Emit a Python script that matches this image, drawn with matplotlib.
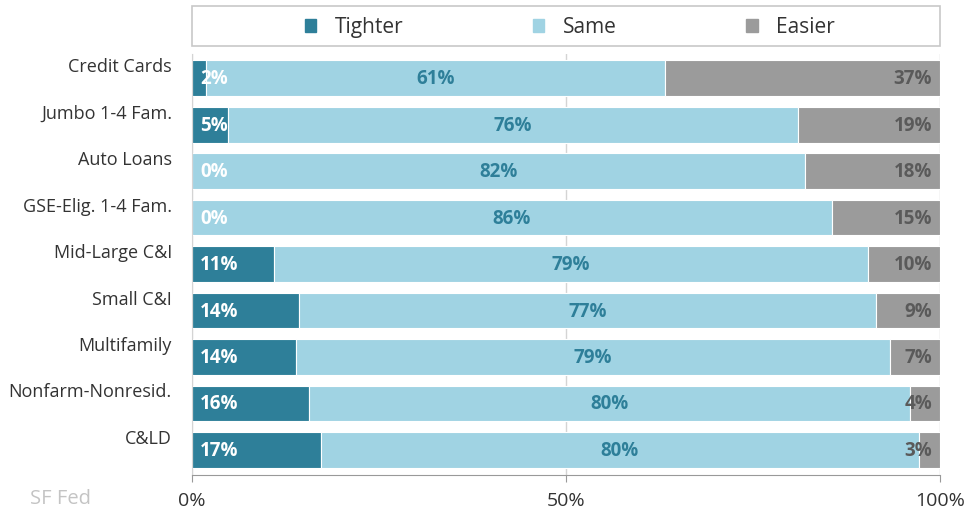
import math
import matplotlib
matplotlib.use("Agg")
import matplotlib.pyplot as plt
from matplotlib.patches import Rectangle, Patch
from matplotlib.transforms import offset_copy

plt.rcParams['font.family'] = ['Open Sans', 'DejaVu Sans']

# Survey shares (%)
categories = ['Credit Cards', 'Jumbo 1-4 Fam.', 'Auto Loans', 'GSE-Elig. 1-4 Fam.',
              'Mid-Large C&I', 'Small C&I', 'Multifamily', 'Nonfarm-Nonresid.', 'C&LD']
tighter = [1.9, 4.8, 0.0, 0.0, 11.0, 14.3, 13.9, 15.6, 17.2]
same = [61.4, 76.2, 82.0, 85.5, 79.4, 77.2, 79.4, 80.4, 80.0]
easier = [36.7, 19.0, 18.0, 14.5, 9.6, 8.5, 6.7, 4.0, 2.8]
series_names = ['Tighter', 'Same', 'Easier']

c_tight = '#2e7f99'
c_same = '#a0d3e3'
c_easy = '#9b9b9b'


def pct(v):
    return f"{math.floor(v + 0.5)}%"


fig = plt.figure(figsize=(9.68, 5.12), dpi=100)
ax = fig.add_axes([192 / 968, 37 / 512, 748 / 968, 421 / 512])

y = list(range(len(categories)))
h = 0.77
left_same = tighter
left_easy = [t + s for t, s in zip(tighter, same)]
ax.barh(y, tighter, height=h, color=c_tight, edgecolor='white', linewidth=0.8, zorder=2)
ax.barh(y, same, left=left_same, height=h, color=c_same, edgecolor='white', linewidth=0.8, zorder=2)
ax.barh(y, easier, left=left_easy, height=h, color=c_easy, edgecolor='white', linewidth=0.8, zorder=2)

ax.set_xlim(0, 100)
ax.set_ylim(8.54, -0.52)

# value labels
t_off = offset_copy(ax.transData, fig=fig, x=8, y=-1, units='dots')
e_off = offset_copy(ax.transData, fig=fig, x=-8, y=-1, units='dots')
c_off = offset_copy(ax.transData, fig=fig, x=0, y=-1, units='dots')
for i in y:
    ax.text(0, i, pct(tighter[i]), transform=t_off, ha='left', va='center',
            color='white', fontsize=13.5, fontweight='bold', zorder=3)
    ax.text(tighter[i] + same[i] / 2, i, pct(same[i]), transform=c_off, ha='center',
            va='center', color=c_tight, fontsize=13.5, fontweight='bold', zorder=3)
    ax.text(100, i, pct(easier[i]), transform=e_off, ha='right', va='center',
            color='#5a5a5a', fontsize=13.5, fontweight='bold', zorder=3)

# category labels, sitting above bar centre
lab_tr = offset_copy(ax.get_yaxis_transform(), fig=fig, x=-20, y=11, units='dots')
for i, cat in enumerate(categories):
    ax.text(0, i, cat, transform=lab_tr, ha='right', va='center',
            color='#333333', fontsize=13)
ax.set_yticks([])

ax.set_xticks([0, 50, 100])
ax.set_xticklabels(['0%', '50%', '100%'], fontsize=14, color='#333333')
ax.tick_params(axis='x', length=5, color='#999999', pad=7)
ax.xaxis.grid(True, color='#d4d4d4', linewidth=1, zorder=0)
ax.set_axisbelow(True)
for s in ['top', 'right']:
    ax.spines[s].set_visible(False)
ax.spines['left'].set_color('#d4d4d4')
ax.spines['bottom'].set_color('#999999')

# legend box
fig.patches.append(Rectangle((192 / 968, 1 - 46 / 512), 748 / 968, 40 / 512,
                             transform=fig.transFigure, fill=False,
                             edgecolor='#c8c8c8', linewidth=1.2))
handles = [Patch(color=c) for c in (c_tight, c_same, c_easy)]
fig.legend(handles, series_names, loc='center', bbox_to_anchor=(570 / 968, 1 - 27.5 / 512),
           ncol=3, frameon=False, fontsize=15, handlelength=0.55, handleheight=0.55,
           handletextpad=0.9, columnspacing=6.2, labelcolor='#333333')

fig.text(30 / 968, 1 - 499 / 512, 'SF Fed', color='#c4c4c4', fontsize=14.5, va='center')

fig.savefig('out.png', dpi=100)
